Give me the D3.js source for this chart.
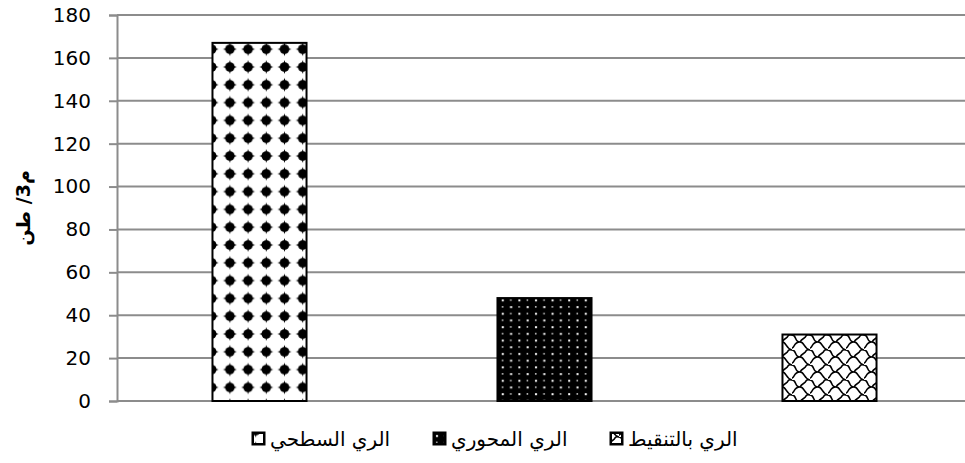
<!DOCTYPE html>
<html>
<head>
<meta charset="utf-8">
<script src="https://cdn.jsdelivr.net/npm/d3@7"></script>
<style>
  body { margin: 0; background: #fff; }
  svg { display: block; }
</style>
</head>
<body>
<script>
const categories = ["الري السطحي", "الري المحوري", "الري بالتنقيط"];
const values = [167, 48, 31];
const yTicks = [0, 20, 40, 60, 80, 100, 120, 140, 160, 180];
const yLabel = "م3/ طن";
const patterns = ["dots", "speckle", "scales"];

const W = 965, H = 463;
const margin = { top: 15, right: -7, bottom: 62, left: 117 };
const width = W - margin.left - margin.right;
const height = H - margin.top - margin.bottom;

const svg = d3.select("body").append("svg")
  .attr("width", W)
  .attr("height", H);

const defs = svg.append("defs");

// big black dots on white
const p1 = defs.append("pattern").attr("id", "dots")
  .attr("patternUnits", "userSpaceOnUse").attr("width", 18.2).attr("height", 17.8)
  .attr("x", 213).attr("y", 52);
p1.append("rect").attr("width", 18.2).attr("height", 17.8).attr("fill", "#fff");
[0, 17.8].forEach(cy => {
  p1.append("circle").attr("cx", 9.1).attr("cy", cy).attr("r", 4.8).attr("fill", "#000");
  p1.append("path")
    .attr("d", `M9.1,${cy - 7} L11.3,${cy} L9.1,${cy + 7} L6.9,${cy}Z M2.1,${cy} L9.1,${cy - 2.2} L16.1,${cy} L9.1,${cy + 2.2}Z`)
    .attr("fill", "#000");
});

// small white dots on black
const p2 = defs.append("pattern").attr("id", "speckle")
  .attr("patternUnits", "userSpaceOnUse").attr("width", 16.6).attr("height", 13.4);
p2.append("rect").attr("width", 16.6).attr("height", 13.4).attr("fill", "#000");
p2.append("rect").attr("x", 3).attr("y", 3).attr("width", 2).attr("height", 2).attr("fill", "#fff");
p2.append("rect").attr("x", 11.3).attr("y", 9.7).attr("width", 2).attr("height", 2).attr("fill", "#fff");
p2.append("rect").attr("x", 11.3).attr("y", 3).attr("width", 1.5).attr("height", 1.5).attr("fill", "#ddd");
p2.append("rect").attr("x", 3).attr("y", 9.7).attr("width", 1.5).attr("height", 1.5).attr("fill", "#ddd");

// wavy scales
const p3 = defs.append("pattern").attr("id", "scales")
  .attr("patternUnits", "userSpaceOnUse").attr("width", 18).attr("height", 15)
  .attr("x", 783).attr("y", 335);
p3.append("rect").attr("width", 18).attr("height", 15).attr("fill", "#fff");
p3.append("path")
  .attr("d", "M0,0 C5,0 2,7 8,7 C13,7 11,13 18,15 M8,7 C10,3 13,4 14,1 C15,-1 17,0 18,0 M-10,8 C-5,8 -7,14 0,15 M8,22 C10,18 13,19 14,16 C15,14 17,15 18,15 M-4,16 C-2,13 1,14 2,11 C3,9 5,7 8,7")
  .attr("fill", "none").attr("stroke", "#000").attr("stroke-width", 1.6);

const g = svg.append("g")
  .attr("transform", `translate(${margin.left},${margin.top})`);

const x = d3.scaleBand()
  .domain(categories)
  .range([0, width])
  .paddingInner(0.67)
  .paddingOuter(0.335);

const y = d3.scaleLinear()
  .domain([0, 180])
  .range([height, 0]);

// gridlines
g.append("g")
  .selectAll("line")
  .data(yTicks)
  .join("line")
  .attr("x1", 0)
  .attr("x2", W - margin.left)
  .attr("y1", d => y(d))
  .attr("y2", d => y(d))
  .attr("stroke", "#8c8c8c")
  .attr("stroke-width", 2);

// y axis
const yAxis = g.append("g")
  .call(d3.axisLeft(y).tickValues(yTicks).tickSize(8).tickPadding(18));
yAxis.select(".domain").attr("stroke", "#8c8c8c").attr("stroke-width", 2);
yAxis.selectAll(".tick line").attr("stroke", "#8c8c8c").attr("stroke-width", 2);
yAxis.selectAll(".tick text")
  .attr("fill", "#000")
  .style("font-family", "'DejaVu Sans', sans-serif")
  .style("font-size", "20px");

// bars
g.selectAll(".bar")
  .data(categories)
  .join("rect")
  .attr("class", "bar")
  .attr("x", d => x(d))
  .attr("y", (d, i) => y(values[i]))
  .attr("width", x.bandwidth())
  .attr("height", (d, i) => height - y(values[i]))
  .attr("fill", (d, i) => `url(#${patterns[i]})`)
  .attr("stroke", "#000")
  .attr("stroke-width", 2);

// y label
svg.append("text")
  .attr("transform", "translate(30,208) rotate(-90)")
  .attr("text-anchor", "middle")
  .style("font-family", "'DejaVu Sans', sans-serif")
  .style("font-size", "19px")
  .style("font-weight", "bold")
  .text(yLabel);

// legend
const legendX = [252, 433, 610];
const legend = svg.selectAll(".legend")
  .data(categories)
  .join("g")
  .attr("class", "legend")
  .attr("transform", (d, i) => `translate(${legendX[i]},432)`);

legend.append("rect")
  .attr("width", 13)
  .attr("height", 13)
  .attr("fill", "#000")
  .attr("stroke", "#000")
  .attr("stroke-width", 1);

legend.append("rect")
  .attr("x", 2).attr("y", 2)
  .attr("width", 9).attr("height", 9)
  .attr("fill", (d, i) => `url(#${patterns[i]})`);

legend.append("text")
  .attr("x", 18)
  .attr("y", 14)
  .attr("direction", "rtl")
  .attr("text-anchor", "end")
  .style("font-family", "'DejaVu Sans', sans-serif")
  .style("font-size", "20px")
  .text(d => d);
</script>
</body>
</html>
